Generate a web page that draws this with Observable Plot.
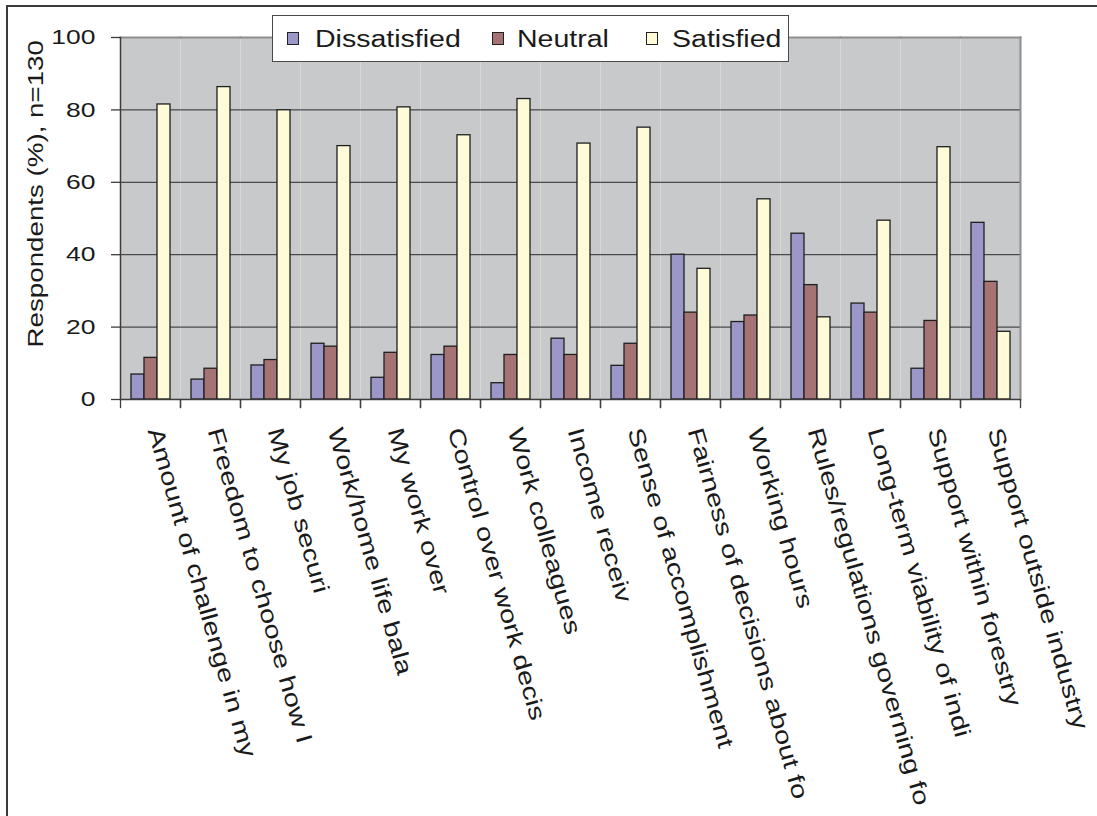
<!DOCTYPE html>
<html><head><meta charset="utf-8">
<script src="https://cdn.jsdelivr.net/npm/d3@7"></script>
<script src="https://cdn.jsdelivr.net/npm/@observablehq/plot@0.6"></script>
<style>
html,body{margin:0;padding:0;background:#fff;}
#wrap{position:relative;width:1097px;height:816px;overflow:hidden;font-family:"Liberation Sans",Arial,sans-serif;}
#chart{position:absolute;left:0;top:0;}
#border{position:absolute;left:6px;top:5px;width:1100px;height:820px;border-top:2px solid #3a3a3a;border-left:2px solid #3a3a3a;pointer-events:none;}
#legend{position:absolute;left:272px;top:15px;width:517px;height:47px;box-sizing:border-box;border:1.5px solid #4a4a4a;background:#fff;}
.sw{position:absolute;top:15.8px;width:12px;height:13px;box-sizing:border-box;border:1px solid #222;}
.lt{position:absolute;top:11.5px;font-size:23px;line-height:1;color:#1a1a1a;transform:scaleX(1.24);transform-origin:0 0;white-space:nowrap;}
</style>
</head>
<body>
<div id="wrap">
  <div id="border"></div>
  <div id="chart"></div>
  <div id="legend"></div>
</div>
<script>
// ---- data ----
const categories = [
  "Amount of challenge in my",
  "Freedom to choose how I",
  "My job securi",
  "Work/home life bala",
  "My work over",
  "Control over work decis",
  "Work colleagues",
  "Income receiv",
  "Sense of accomplishment",
  "Fairness of decisions about fo",
  "Working hours",
  "Rules/regulations governing fo",
  "Long-term viability of indi",
  "Support within forestry",
  "Support outside industry"
];
const dissatisfied = [6.9, 5.5, 9.4, 15.4, 6.0, 12.3, 4.5, 16.8, 9.3, 40.0, 21.4, 45.8, 26.5, 8.5, 48.8];
const neutral      = [11.5, 8.5, 10.9, 14.6, 12.9, 14.6, 12.3, 12.3, 15.4, 24.0, 23.2, 31.6, 24.0, 21.7, 32.5];
const satisfied    = [81.5, 86.3, 79.9, 70.0, 80.7, 73.0, 83.0, 70.7, 75.1, 36.1, 55.3, 22.7, 49.4, 69.7, 18.7];
const seriesNames  = ["Dissatisfied", "Neutral", "Satisfied"];
const seriesColors = ["#9b97c9", "#a57373", "#fffbd8"];
const yTicks = [0, 20, 40, 60, 80, 100];
const yTitle = "Respondents (%), n=130";

const seriesValues = [dissatisfied, neutral, satisfied];
const table = categories.flatMap((c, i) =>
  seriesNames.map((s, j) => ({cat: c, series: s, value: seriesValues[j][i]})));

const stretch = 1.26;
const font = '"Liberation Sans", Arial, sans-serif';

const chart = Plot.plot({
  width: 1097,
  height: 816,
  marginLeft: 117,
  marginRight: 74,
  marginTop: 37,
  marginBottom: 417,
  style: {fontFamily: font, background: "transparent", overflow: "visible"},
  fx: {domain: categories, padding: 0, axis: null, label: null},
  x: {domain: seriesNames, paddingInner: 0, paddingOuter: 0.69, axis: null},
  y: {domain: [0, 100]},
  color: {domain: seriesNames, range: seriesColors},
  marks: [
    Plot.frame({fill: "#c8c9cb", stroke: null}),
    Plot.ruleY([20, 40, 60, 80], {stroke: "#2a2a2a", strokeWidth: 1}),
    Plot.frame({anchor: "top", stroke: "#8e8e8e", strokeWidth: 2}),
    Plot.frame({anchor: "right", stroke: "#8e8e8e", strokeWidth: 2, facetAnchor: "right"}),
    Plot.barY(table, {fx: "cat", x: "series", y: "value", fill: "series", stroke: "#1f1f1f", strokeWidth: 1.3}),
    Plot.ruleY([0], {stroke: "#3c3c3c", strokeWidth: 1.5}),
    Plot.frame({anchor: "left", stroke: "#3c3c3c", strokeWidth: 1.5, facetAnchor: "left"}),
    Plot.frame({anchor: "left", stroke: "#3c3c3c", strokeWidth: 1.3, insetTop: 362, insetBottom: -8}),
    Plot.frame({anchor: "right", stroke: "#3c3c3c", strokeWidth: 1.3, insetTop: 362, insetBottom: -8}),
    Plot.axisY({anchor: "left", ticks: yTicks, tickFormat: d => String(d), tickSize: 9, tickPadding: 16,
      fontSize: 21, stroke: "#3c3c3c", strokeWidth: 1.3, fill: "#1a1a1a", label: null}),
    Plot.text(categories, {fx: d => d, text: d => d, frameAnchor: "bottom", dy: 31, dx: -3,
      rotate: 74, textAnchor: "start", fontSize: 23, fill: "#1a1a1a"}),
    Plot.text([yTitle], {text: d => d, frameAnchor: "left", rotate: -90, dx: -85, dy: 129,
      textAnchor: "start", fontSize: 22, fill: "#1a1a1a", facetAnchor: "left"})
  ]
});
document.getElementById("chart").appendChild(chart);

// widen the glyphs along the reading direction, as in the reference
chart.querySelectorAll("text").forEach(t => {
  const L = t.getComputedTextLength();
  if (L > 0) {
    t.setAttribute("textLength", (L * stretch).toFixed(2));
    t.setAttribute("lengthAdjust", "spacingAndGlyphs");
  }
});

// legend
const legend = document.getElementById("legend");
const swLeft = [14.2, 218.8, 372.5];
const txLeft = [41.7, 244, 399];
seriesNames.forEach((s, i) => {
  const sw = document.createElement("div");
  sw.className = "sw";
  sw.style.left = swLeft[i] + "px";
  sw.style.background = seriesColors[i];
  legend.appendChild(sw);
  const tx = document.createElement("div");
  tx.className = "lt";
  tx.style.left = txLeft[i] + "px";
  tx.textContent = s;
  legend.appendChild(tx);
});
</script>
</body></html>
